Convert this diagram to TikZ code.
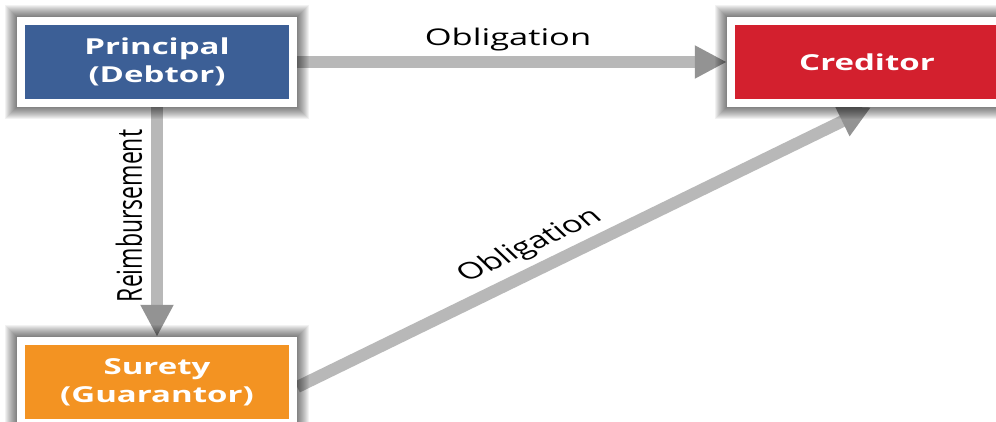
\documentclass[tikz,border=0pt]{standalone}
\usepackage{fontspec}
\usepackage{graphicx}
\setmainfont{Open Sans}
\usetikzlibrary{arrows.meta}
\definecolor{pblue}{HTML}{3C5F96}
\definecolor{cred}{HTML}{D3202E}
\definecolor{sorange}{HTML}{F39322}
\definecolor{arrowgray}{HTML}{B8B8B8}
\newcommand\sxx[1]{\scalebox{1.5}[1]{#1}}
\newcommand\syy[1]{\scalebox{1}[1.5]{#1}}
\newcommand\fuzzyshadow[1]{%
  \foreach \d in {1,...,12}{%
    \fill[black, opacity=0.05] ([shift={(-\d,-\d)}]#1.north west) rectangle ([shift={(\d,\d)}]#1.south east);}}
\pgfdeclarelayer{back}
\pgfdeclarelayer{shadow}
\pgfsetlayers{back,shadow,main}
\begin{document}
\begin{tikzpicture}[x=1pt,y=-1pt,
  box/.style={draw=white, line width=8.5pt, minimum width=272pt, minimum height=82pt,
    inner sep=0pt, align=center, text=white, font=\fontsize{22}{28}\selectfont\bfseries},
  conn/.style={draw=arrowgray, line width=12pt,
    -{Triangle[width=31pt,length=32pt,fill=arrowgray!80!black,color=arrowgray!80!black]}},
  lbl/.style={text=black, font=\fontsize{23}{26}\selectfont, inner sep=2pt}]
\useasboundingbox (0,0) rectangle (996,421);

% boxes
\node[box, fill=pblue] (principal) at (157,62) {\sxx{Principal}\\\sxx{(Debtor)}};
\node[box, fill=cred] (creditor) at (867,62) {\sxx{Creditor}};
\node[box, fill=sorange] (surety) at (157,382) {\sxx{Surety}\\\sxx{(Guarantor)}};

% shadows
\begin{pgfonlayer}{shadow}
\fuzzyshadow{principal}
\fuzzyshadow{creditor}
\fuzzyshadow{surety}
\end{pgfonlayer}

% connectors behind
\begin{pgfonlayer}{back}
\fill[white] (-20,-20) rectangle (1016,441);
\draw[conn] (principal.east) -- (creditor.west) node[lbl, midway, above=3pt, xshift=-4pt] (ob1) {\sxx{Obligation}};
\draw[conn] (principal.south) -- (surety.north);
\draw[conn] ([yshift=-5]surety.east) -- ([xshift=4]creditor.south);
\end{pgfonlayer}

\node[lbl, rotate=90] (reimb) at (129,216) {\syy{Reimbursement}};
\begin{scope}[shift={(530,246)}, xscale=1.5, rotate=34.7]
\node[lbl, transform shape] (ob2) at (0,0) {Obligation};
\end{scope}
\end{tikzpicture}
\end{document}
